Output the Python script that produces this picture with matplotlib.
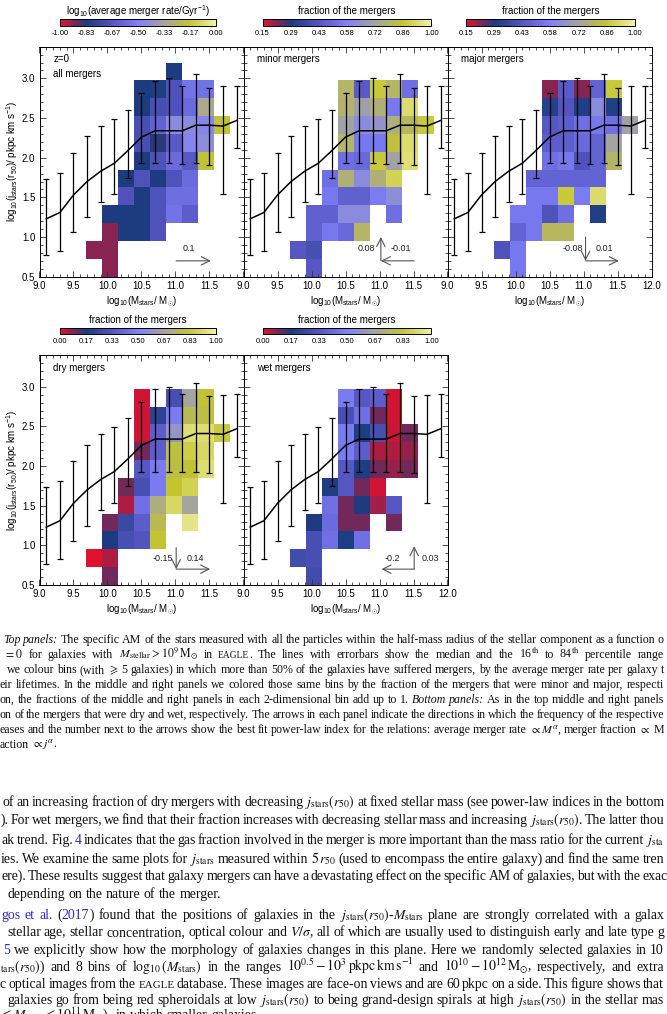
import numpy as np
import matplotlib
matplotlib.use('Agg')
import matplotlib.pyplot as plt
from matplotlib.colors import LinearSegmentedColormap, Normalize
from matplotlib.ticker import MultipleLocator

W, H, DPI = 667, 1014, 100

plt.rcParams['font.family'] = ['Liberation Sans', 'DejaVu Sans']
plt.rcParams['mathtext.fontset'] = 'custom'
plt.rcParams['mathtext.rm'] = 'Liberation Sans'
plt.rcParams['mathtext.it'] = 'Liberation Sans:italic'
plt.rcParams['axes.unicode_minus'] = False

_ = np.nan

# median and 16th-84th percentiles of log10 j_stars(r50) per stellar-mass bin
mass_mid = [9.1, 9.3, 9.5, 9.7, 9.9, 10.1, 10.3, 10.5, 10.7, 10.9, 11.1, 11.3, 11.5, 11.7, 11.9]
j_median = [1.23, 1.31, 1.53, 1.70, 1.83, 1.93, 2.09, 2.26, 2.34, 2.34, 2.34, 2.41, 2.41, 2.40, 2.47]
j_p84 = [1.73, 1.81, 2.06, 2.27, 2.40, 2.49, 2.60, 2.81, 2.97, 3.00, 2.91, 3.05, 2.88, 2.90, 2.91]
j_p16 = [0.77, 0.83, 1.06, 1.25, 1.44, 1.54, 1.75, 1.93, 1.93, 1.93, 1.92, 1.93, 1.91, 1.54, 2.12]

# 2d bins: rows from top (j ~3.2) to bottom (j ~0.5), columns from M ~9.7 upwards
rate_all = [
    [_, _, _, _, _, -0.83, _, _, _],
    [_, _, _, -0.83, -0.82, -0.68, -0.55, -0.55, _],
    [_, _, _, -0.83, -0.70, -0.68, -0.58, -0.30, _],
    [_, _, _, -0.70, -0.62, -0.45, -0.45, -0.47, -0.18],
    [_, _, _, -0.70, -0.84, -0.65, -0.48, -0.44, _],
    [_, _, _, -0.83, -0.68, -0.58, -0.65, -0.18, _],
    [_, _, -0.83, -0.68, -0.83, -0.68, -0.58, _, _],
    [_, _, -0.68, -0.83, -0.68, -0.57, -0.57, _, _],
    [_, -0.83, -0.83, -0.83, -0.68, -0.55, -0.64, _, _],
    [_, -0.92, -0.83, -0.83, -0.68, _, _, _, _],
    [-0.92, -0.92, _, _, _, _, _, _, _],
    [_, -0.92, _, _, _, _, _, _, _],
]
frac_minor = [
    [_, _, _, _, _, _, _, _, _],
    [_, _, _, 0.79, 0.45, 0.87, 0.79, 0.52, _],
    [_, _, _, 0.78, 0.70, 0.77, 0.55, 0.93, _],
    [_, _, _, 0.71, 0.62, 0.65, 0.76, 0.80, 0.87],
    [_, _, _, 0.79, 0.55, 0.55, 0.84, 0.93, _],
    [_, _, _, 0.52, 0.50, 0.87, 0.71, 0.94, _],
    [_, _, 0.52, 0.77, 0.62, 0.77, 0.90, _, _],
    [_, _, 0.55, 0.47, 0.47, 0.56, 0.63, _, _],
    [_, 0.47, 0.47, 0.62, 0.62, _, 0.52, _, _],
    [_, 0.47, 0.55, 0.50, 0.79, _, _, _, _],
    [0.44, 0.40, _, _, _, _, _, _, _],
    [_, 0.44, _, _, _, _, _, _, _],
]
frac_major = [
    [_, _, _, _, _, _, _, _, _],
    [_, _, _, 0.22, 0.45, 0.22, 0.48, 0.87, _],
    [_, _, _, 0.32, 0.43, 0.31, 0.62, 0.31, _],
    [_, _, _, 0.44, 0.46, 0.52, 0.55, 0.52, 0.71],
    [_, _, _, 0.46, 0.46, 0.50, 0.48, 0.72, _],
    [_, _, _, 0.52, 0.55, 0.42, 0.48, 0.79, _],
    [_, _, 0.48, 0.48, 0.48, 0.48, 0.48, _, _],
    [_, _, 0.55, 0.55, 0.87, 0.56, 0.93, _, _],
    [_, 0.55, 0.55, 0.42, 0.52, _, 0.31, _, _],
    [_, 0.48, 0.55, 0.80, 0.80, _, _, _, _],
    [0.42, 0.55, _, _, _, _, _, _, _],
    [_, 0.55, _, _, _, _, _, _, _],
]
frac_dry = [
    [_, _, _, _, _, _, _, _, _],
    [_, _, _, 0.02, _, 0.30, 0.67, 0.82, _],
    [_, _, _, 0.02, 0.22, 0.48, 0.78, 0.80, _],
    [_, _, _, 0.02, 0.36, 0.60, 0.92, 0.92, 0.85],
    [_, _, _, 0.10, 0.36, 0.80, 0.86, 0.90, _],
    [_, _, _, 0.34, 0.48, 0.80, 0.82, 0.92, _],
    [_, _, 0.10, 0.30, 0.48, 0.83, 0.88, _, _],
    [_, _, 0.05, 0.44, 0.72, 0.90, 0.67, _, _],
    [_, 0.10, 0.26, 0.36, 0.78, _, 0.95, _, _],
    [_, 0.17, 0.30, 0.33, 0.83, _, _, _, _],
    [0.01, 0.05, _, _, _, _, _, _, _],
    [_, 0.10, _, _, _, _, _, _, _],
]
frac_wet = [
    [_, _, _, _, _, _, _, _, _],
    [_, _, _, 0.48, 0.34, 0.36, 0.02, _, _],
    [_, _, _, 0.30, 0.44, 0.10, 0.02, _, _],
    [_, _, _, 0.48, 0.18, 0.30, 0.03, 0.10, _],
    [_, _, _, 0.48, 0.36, 0.05, 0.05, 0.07, _],
    [_, _, _, 0.34, 0.18, 0.10, 0.07, 0.10, _],
    [_, _, 0.18, 0.34, 0.10, 0.02, _, _, _],
    [_, _, 0.44, 0.10, 0.17, 0.06, 0.34, _, _],
    [_, 0.17, 0.42, 0.10, 0.10, _, 0.10, _, _],
    [_, 0.30, 0.44, 0.18, 0.44, _, _, _, _],
    [0.28, 0.30, _, _, _, _, _, _, _],
    [_, 0.28, _, _, _, _, _, _, _],
]

rate_ticks = ['-1.00', '-0.83', '-0.67', '-0.50', '-0.33', '-0.17', '0.00']
frac_ticks_top = ['0.15', '0.29', '0.43', '0.58', '0.72', '0.86', '1.00']
frac_ticks_bot = ['0.00', '0.17', '0.33', '0.50', '0.67', '0.83', '1.00']

# power-law index arrows: (start, end) in data units, and their labels
arrows_all = [((11.01, 0.70), (11.52, 0.70))]
labels_all = [('0.1', 11.20, 0.86)]
arrows_minor = [((11.02, 0.70), (11.02, 1.00)), ((11.51, 0.70), (11.02, 0.70))]
labels_minor = [('0.08', 10.81, 0.86), ('-0.01', 11.32, 0.86)]
arrows_major = [((11.03, 1.00), (11.03, 0.70)), ((11.03, 0.70), (11.52, 0.70))]
labels_major = [('-0.08', 10.84, 0.86), ('0.01', 11.30, 0.86)]
arrows_dry = [((11.01, 0.97), (11.01, 0.70)), ((11.01, 0.70), (11.51, 0.70))]
labels_dry = [('-0.15', 10.82, 0.84), ('0.14', 11.29, 0.84)]
arrows_wet = [((11.51, 0.70), (11.51, 0.99)), ((11.51, 0.70), (11.03, 0.70))]
labels_wet = [('-0.2', 11.19, 0.84), ('0.03', 11.75, 0.84)]

cmap = LinearSegmentedColormap.from_list('idl', [
    (0.00, '#e8102a'), (0.17, '#1a3c80'), (0.33, '#5454c0'), (0.50, '#8080f8'),
    (0.67, '#a4a4a0'), (0.83, '#c4c430'), (1.00, '#f2f2a8')])

xe = 9.685 + 0.2345 * np.arange(10)
ye = 0.5 + 0.225 * np.arange(13)

fig = plt.figure(figsize=(W / DPI, H / DPI), dpi=DPI)


def px_axes(x0, y0, x1, y1):
    return fig.add_axes([x0 / W, 1 - y1 / H, (x1 - x0) / W, (y1 - y0) / H])


def colorbar(x0, x1, y0, vmin, vmax, ticks, title):
    cax = px_axes(x0, y0, x1, y0 + 6)
    sm = plt.cm.ScalarMappable(norm=Normalize(vmin, vmax), cmap=cmap)
    cb = fig.colorbar(sm, cax=cax, orientation='horizontal')
    cb.set_ticks(np.linspace(vmin, vmax, 7))
    cb.set_ticklabels(ticks)
    cax.tick_params(length=0, pad=3, labelsize=5.5)
    cb.outline.set_linewidth(0.7)
    fig.text((x0 + x1) / 2 / W, 1 - (y0 - 8) / H, title, ha='center', va='center', fontsize=7)


def panel(x0, y0, grid, vmin, vmax, names, arrows, alabels, ylab, last):
    ax = px_axes(x0, y0, x0 + 204, y0 + 230)
    z = np.ma.masked_invalid(np.array(grid, dtype=float)[::-1])
    ax.pcolormesh(xe, ye, z, cmap=cmap, vmin=vmin, vmax=vmax, shading='flat')
    med = np.array(j_median)
    ax.errorbar(mass_mid, med, yerr=[med - np.array(j_p16), np.array(j_p84) - med],
                fmt='none', ecolor='k', elinewidth=0.9, capsize=2.3, capthick=0.9)
    ax.plot(mass_mid, med, color='k', lw=1.1)
    for (s, e) in arrows:
        ax.annotate('', xy=e, xytext=s,
                    arrowprops=dict(arrowstyle='->,head_length=0.5,head_width=0.25',
                                    color='#555555', lw=0.8, shrinkA=0, shrinkB=0,
                                    mutation_scale=12))
    for t, x, y in alabels:
        ax.text(x, y, t, ha='center', va='center', fontsize=6.5, color='#222222')
    for i, nm in enumerate(names):
        ax.text(0.068, 0.945 - 0.065 * i, nm, transform=ax.transAxes, fontsize=7, va='center')
    ax.set_xlim(9, 12)
    ax.set_ylim(0.5, 3.4)
    ax.xaxis.set_minor_locator(MultipleLocator(0.1))
    ax.yaxis.set_minor_locator(MultipleLocator(0.1))
    xt = np.arange(9.0, 12.01, 0.5)
    ax.set_xticks(xt)
    ax.set_xticklabels(['%.1f' % v for v in xt[:-1]] + (['12.0'] if last else ['']))
    ax.set_yticks(np.arange(0.5, 3.01, 0.5))
    if not ylab:
        ax.set_yticklabels([])
    ax.tick_params(which='both', direction='in', top=True, right=True, labelsize=7,
                   width=0.6, color='#333333')
    ax.tick_params(which='major', length=4.3, pad=3)
    ax.tick_params(which='minor', length=2.3)
    for sp in ax.spines.values():
        sp.set_linewidth(0.7)
    fig.text((x0 + 102) / W, 1 - (y0 + 255) / H,
             r'log$_{10}$(M$_{\rm stars}$/ M$_{\odot}$)', ha='center', va='center', fontsize=7)
    if ylab:
        fig.text(12.3 / W, 1 - (y0 + 115) / H,
                 r'log$_{10}$(j$_{\rm stars}$(r$_{50}$)/ pkpc km s$^{-1}$)',
                 ha='center', va='center', rotation=90, fontsize=7)


TOP, BOT = 46.7, 355.0
panel(39.5, TOP, rate_all, -1.0, 0.0, ['z=0', 'all mergers'], arrows_all, labels_all, True, False)
panel(243.5, TOP, frac_minor, 0.15, 1.0, ['minor mergers'], arrows_minor, labels_minor, False, False)
panel(447.5, TOP, frac_major, 0.15, 1.0, ['major mergers'], arrows_major, labels_major, False, True)
panel(39.5, BOT, frac_dry, 0.0, 1.0, ['dry mergers'], arrows_dry, labels_dry, True, False)
panel(243.5, BOT, frac_wet, 0.0, 1.0, ['wet mergers'], arrows_wet, labels_wet, False, True)

colorbar(60, 216, 19.5, -1.0, 0.0, rate_ticks, r'log$_{10}$(average merger rate/Gyr$^{-1}$)')
colorbar(262.5, 431.5, 19.5, 0.15, 1.0, frac_ticks_top, 'fraction of the mergers')
colorbar(466, 635, 19.5, 0.15, 1.0, frac_ticks_top, 'fraction of the mergers')
colorbar(60, 216, 328, 0.0, 1.0, frac_ticks_bot, 'fraction of the mergers')
colorbar(262.5, 431.5, 328, 0.0, 1.0, frac_ticks_bot, 'fraction of the mergers')

# ---- page text under the figure: (left px, baseline px, segments, justified) ----
LINK = '#2b2bd0'
caption = [
    (3, 643, [('Top panels:', 'i'), (' The specific AM of the stars measured with all the particles within the half-mass radius of the stellar component as a function o', 'n')], True),
    (4, 658, [(r'$= 0$ for galaxies with $M_{\rm stellar} > 10^9\,{\rm M}_{\odot}$ in ', 'n'), ('EAGLE', 's'), (r'. The lines with errorbars show the median and the 16$^{\rm th}$ to 84$^{\rm th}$ percentile range', 'n')], True),
    (7, 673, [(r'we colour bins (with $\geqslant$ 5 galaxies) in which more than 50% of the galaxies have suffered mergers, by the average merger rate per galaxy t', 'n')], True),
    (0, 688, [('eir lifetimes. In the middle and right panels we colored those same bins by the fraction of the mergers that were minor and major, respecti', 'n')], True),
    (0, 703, [('on, the fractions of the middle and right panels in each 2-dimensional bin add up to 1. ', 'n'), ('Bottom panels:', 'i'), (' As in the top middle and right panels', 'n')], True),
    (0, 718, [('on of the mergers that were dry and wet, respectively. The arrows in each panel indicate the directions in which the frequency of the respective', 'n')], True),
    (0, 733, [(r'eases and the number next to the arrows show the best fit power-law index for the relations: average merger rate $\propto M^{\alpha}$, merger fraction $\propto$ M', 'n')], True),
    (0, 748, [(r'action $\propto j^{\alpha}$.', 'n')], False),
]
body = [
    (3, 806, [(r'of an increasing fraction of dry mergers with decreasing $j_{\rm stars}(r_{50})$ at fixed stellar mass (see power-law indices in the bottom', 'n')], True),
    (1, 824, [(r'). For wet mergers, we find that their fraction increases with decreasing stellar mass and increasing $j_{\rm stars}(r_{50})$. The latter thou', 'n')], True),
    (2, 844, [('ak trend. Fig. ', 'n'), ('4', 'b'), (r' indicates that the gas fraction involved in the merger is more important than the mass ratio for the current $j_{\rm sta}$', 'n')], True),
    (1, 863, [(r'ies. We examine the same plots for $j_{\rm stars}$ measured within $5\,r_{50}$ (used to encompass the entire galaxy) and find the same tren', 'n')], True),
    (1, 880, [('ere). These results suggest that galaxy mergers can have a devastating effect on the specific AM of galaxies, but with the exac', 'n')], True),
    (7, 898, [('depending on the nature of the merger.', 'n')], False),
    (1, 919, [('gos et al.', 'b'), (' (', 'n'), ('2017', 'b'), (r') found that the positions of galaxies in the $j_{\rm stars}(r_{50})$-$M_{\rm stars}$ plane are strongly correlated with a galax', 'n')], True),
    (7, 936, [(r'stellar age, stellar concentration, optical colour and $V/\sigma$, all of which are usually used to distinguish early and late type g', 'n')], True),
    (3, 954, [('5', 'b'), (' we explicitly show how the morphology of galaxies changes in this plane. Here we randomly selected galaxies in 10', 'n')], True),
    (0, 971, [(r'$_{\rm tars}(r_{50})$) and 8 bins of $\log_{10}(M_{\rm stars})$ in the ranges $10^{0.5}-10^{3}\,{\rm pkpc\,km\,s^{-1}}$ and $10^{10}-10^{12}\,{\rm M}_{\odot}$, respectively, and extra', 'n')], True),
    (0, 988, [('c optical images from the ', 'n'), ('EAGLE', 's'), (' database. These images are face-on views and are 60 pkpc on a side. This figure shows that', 'n')], True),
    (7, 1004, [(r'galaxies go from being red spheroidals at low $j_{\rm stars}(r_{50})$ to being grand-design spirals at high $j_{\rm stars}(r_{50})$ in the stellar mas', 'n')], True),
    (0, 1019, [(r'$\leqslant M_{\rm stars} \leqslant 10^{11}\,{\rm M}_{\odot}$), in which smaller galaxies', 'n')], False),
]

renderer = fig.canvas.get_renderer()


def split_words(txt):
    words, cur, in_math = [], '', False
    for ch in txt:
        if ch == '$':
            in_math = not in_math
        if ch == ' ' and not in_math:
            if cur:
                words.append(cur)
            cur = ''
        else:
            cur += ch
    if cur:
        words.append(cur)
    return words


def put_line(x0, y, segs, size, justify, right=664.0):
    sp = 0.25 * size * DPI / 72.0
    items = []
    pending = False
    for txt, kind in segs:
        for i, w in enumerate(split_words(txt)):
            gap = (i > 0) or txt.startswith(' ') or pending
            items.append((w, kind, gap and len(items) > 0))
            pending = False
        pending = txt.endswith(' ')
    texts, widths = [], []
    for w, kind, gap in items:
        kw = dict(fontsize=size, family='Liberation Serif', math_fontfamily='stix',
                  ha='left', va='baseline', color='#111111')
        if kind == 'i':
            kw['style'] = 'italic'
        elif kind == 'b':
            kw['color'] = LINK
        elif kind == 's':
            kw['fontsize'] = size * 0.8
        t = fig.text(0, 1 - y / H, w, **kw)
        texts.append(t)
        widths.append(t.get_window_extent(renderer).width)
    ngaps = sum(1 for it in items if it[2])
    natural = sum(widths) + ngaps * sp
    extra = 0.0
    if justify and ngaps:
        extra = max((right - x0 - natural) / ngaps, -0.4 * sp)
    x = x0
    for t, wd, it in zip(texts, widths, items):
        if it[2]:
            x += sp + extra
        t.set_x(x / W)
        x += wd


for x0, y, segs, just in caption:
    put_line(x0, y, segs, 8.6, just)
for x0, y, segs, just in body:
    put_line(x0, y, segs, 9.9, just)

fig.savefig('out.png', dpi=DPI)
